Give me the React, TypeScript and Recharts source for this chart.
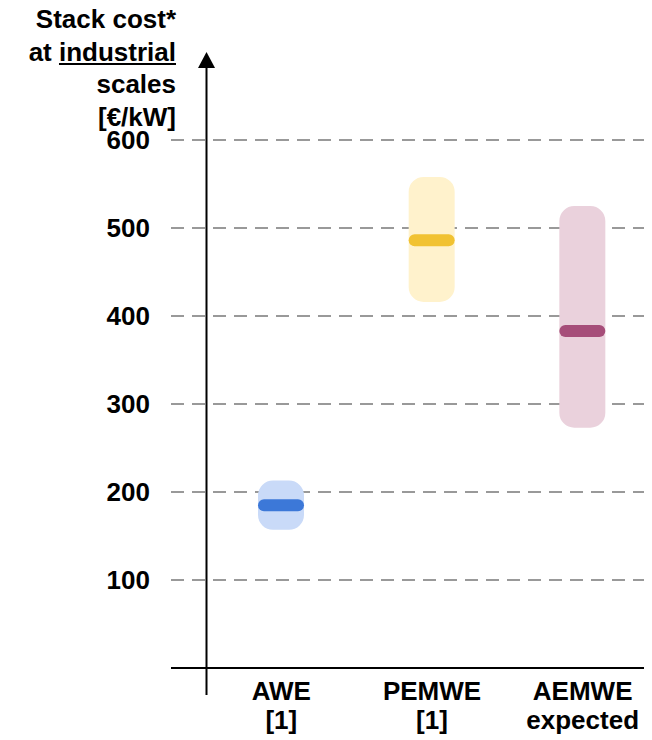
import React from 'react';
import { BarChart, Bar, XAxis, YAxis, CartesianGrid, Cell, Customized } from 'recharts';

// Stack cost ranges per electrolyser technology, €/kW
const technologies = ['AWE', 'PEMWE', 'AEMWE'];
const sourceNotes = ['[1]', '[1]', 'expected'];
const costLow = [157, 416, 273];
const costHigh = [213, 558, 525];
const costMedian = [185, 486, 383];
const yTicks = [100, 200, 300, 400, 500, 600];

const rangeColors = ['#c9daf8', '#fff2cc', '#ead1dc'];
const medianColors = ['#3c78d8', '#f1c232', '#a64d79'];

// half thickness of the median marker band, in €/kW
const MEDIAN_HALF = 6.8;

const data = technologies.map((name, i) => ({
  name,
  range: [costLow[i], costHigh[i]],
  median: [costMedian[i] - MEDIAN_HALF, costMedian[i] + MEDIAN_HALF],
}));

const FONT = '"Liberation Sans", Arial, Helvetica, sans-serif';
const FONT_SIZE = 26;
const CHART_W = 644;
const CHART_H = 730;
const MARGIN = { top: 132, right: 0, left: 0, bottom: 0 };
const Y_AXIS_W = 163;
const X_PADDING = { left: 35, right: -6 };

const CategoryTick = (props: any) => {
  const { x, y, payload, index } = props;
  const note = sourceNotes[index] ?? '';
  return (
    <g>
      <text x={x} y={y + 24} textAnchor="middle" fill="#000" fontSize={FONT_SIZE} fontWeight={700} fontFamily={FONT}>
        {payload.value}
      </text>
      <text x={x} y={y + 53} textAnchor="middle" fill="#000" fontSize={FONT_SIZE} fontWeight={700} fontFamily={FONT}>
        {note}
      </text>
    </g>
  );
};

// vertical value axis with arrow head, drawn a little inside the plot
const ArrowAxis = () => {
  const x = 198.5;
  const tipY = 44;
  const headY = 60;
  return (
    <g>
      <line x1={x} y1={headY} x2={x} y2={687} stroke="#000" strokeWidth={2} />
      <polygon points={`${x},${tipY} ${x - 8.5},${headY} ${x + 8.5},${headY}`} fill="#000" />
    </g>
  );
};

const App: React.FC = () => {
  return (
    <div style={{ position: 'relative', width: CHART_W, height: CHART_H }}>
      <div
        style={{
          position: 'absolute',
          left: 0,
          top: -5,
          width: 168,
          textAlign: 'right',
          fontFamily: FONT,
          fontWeight: 700,
          fontSize: FONT_SIZE,
          lineHeight: '32.5px',
          color: '#000',
          zIndex: 2,
          whiteSpace: 'nowrap',
        }}
      >
        <div>Stack cost*</div>
        <div>
          at <span style={{ textDecoration: 'underline' }}>industrial</span>
        </div>
        <div>scales</div>
        <div>[€/kW]</div>
      </div>
      <BarChart width={CHART_W} height={CHART_H} data={data} margin={MARGIN}>
        <CartesianGrid
          xAxisId="range"
          vertical={false}
          stroke="#999"
          strokeWidth={2}
          strokeDasharray="13 8"
        />
        <XAxis
          xAxisId="range"
          dataKey="name"
          height={70}
          padding={X_PADDING}
          axisLine={{ stroke: '#000', strokeWidth: 2 }}
          tickLine={false}
          tick={<CategoryTick />}
          interval={0}
        />
        <XAxis xAxisId="median" dataKey="name" padding={X_PADDING} height={0} hide />
        <YAxis
          width={Y_AXIS_W}
          domain={[0, 600]}
          ticks={yTicks}
          axisLine={false}
          tickLine={false}
          tickMargin={15}
          tick={{ fill: '#000', fontSize: FONT_SIZE, fontWeight: 700, fontFamily: FONT }}
        />
        <Bar xAxisId="range" dataKey="range" barSize={46} radius={15} isAnimationActive={false}>
          {data.map((d, i) => (
            <Cell key={`range-${d.name}`} fill={rangeColors[i]} />
          ))}
        </Bar>
        <Bar xAxisId="median" dataKey="median" barSize={46} radius={6} isAnimationActive={false}>
          {data.map((d, i) => (
            <Cell key={`median-${d.name}`} fill={medianColors[i]} />
          ))}
        </Bar>
        <Customized component={<ArrowAxis />} />
      </BarChart>
    </div>
  );
};

export default App;
